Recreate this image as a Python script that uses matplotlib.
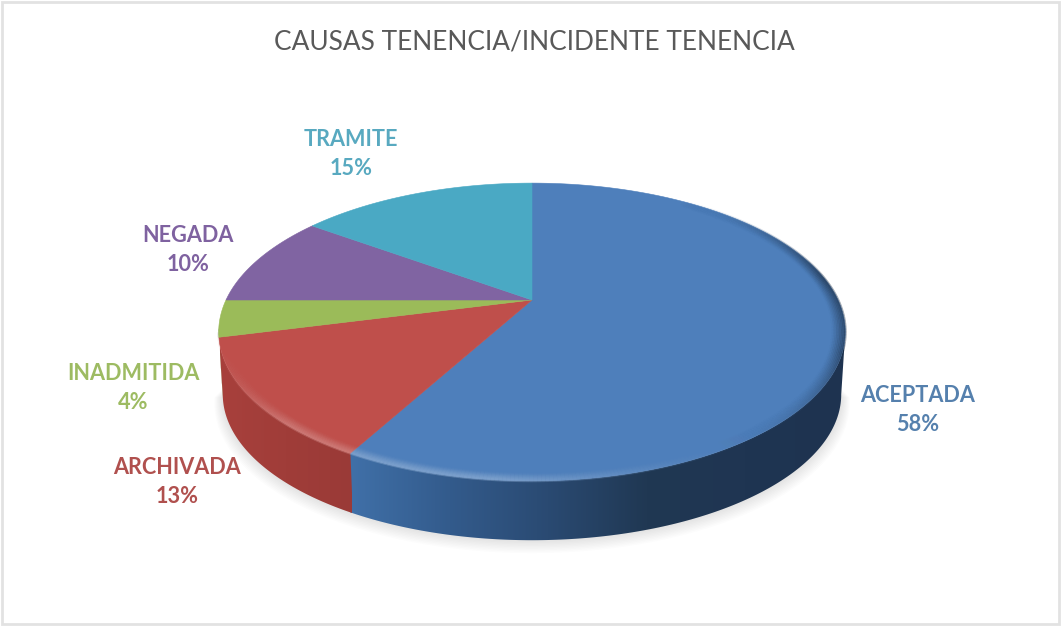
#!/usr/bin/env python3

import numpy as np
import matplotlib
matplotlib.use("Agg")
import matplotlib.pyplot as plt
from matplotlib.collections import LineCollection
from matplotlib.colors import LinearSegmentedColormap, to_rgb
from matplotlib.patches import Polygon, Rectangle

categories = ["ACEPTADA", "ARCHIVADA", "INADMITIDA", "NEGADA", "TRAMITE"]
shares = [58, 13, 4, 10, 15]

top_colors = ["#4e7fbb", "#bf4f4b", "#9bbb59", "#8064a2", "#4aa9c4"]
text_colors = ["#5580ad", "#b0504e", "#9dbb62", "#7f62a0", "#58a9c0"]
label_xy = [(918, 410), (177, 482), (133, 388), (188, 250), (351, 154)]

# pie geometry in image pixels, the disc is drawn with a perspective tilt
CX, CY = 532, 300
RX, RY, TILT = 306, 142, 0.2147
DEPTH = 63


def rim(t, scale=1.0):
    # t in degrees, clockwise from twelve o'clock
    a = np.radians(t)
    w = 1 + TILT * np.cos(a)
    return CX + scale * RX * np.sin(a) / w, CY - scale * RY * np.cos(a) / w


def lower_rim(t, grow=0.0):
    x, y = rim(t)
    return CX + (x - CX) * (0.987 + grow), CY + (y - CY) * (0.98 + grow) + DEPTH


def gradient_side(ax, xs, ys, stops, x0, x1):
    cmap = LinearSegmentedColormap.from_list("side", stops)
    poly = Polygon(np.c_[xs, ys], closed=True, fc="none", ec="none")
    ax.add_patch(poly)
    im = ax.imshow(
        np.linspace(0, 1, 256)[None, :],
        cmap=cmap,
        extent=(x0, x1, 560, 300),
        aspect="auto",
        zorder=3,
    )
    im.set_clip_path(poly)


def main():
    fig = plt.figure(figsize=(10.61, 6.26), dpi=100)
    ax = fig.add_axes([0, 0, 1, 1])
    ax.set_xlim(0, 1061)
    ax.set_ylim(626, 0)
    ax.axis("off")

    # chart frame
    ax.add_patch(Rectangle((2, 2), 1057, 622, fc="white", ec="#e2e2e2", lw=2))

    ax.text(534, 42, "CAUSAS TENENCIA/INCIDENTE TENENCIA", ha="center", va="center",
            fontsize=18.9, family="Lato", color="#595959")

    # soft shadow under the pie
    ts = np.linspace(100, 260, 200)
    for i in range(10):
        sx, sy = lower_rim(ts, grow=0.003 * i)
        ax.fill(sx, sy + 0.9 * i, color="black", alpha=0.012, lw=0, zorder=1)

    ends = np.cumsum(shares) * 3.6
    starts = np.r_[0, ends[:-1]]

    # side wall, only the front part of the rim shows
    front_a, front_b = 102.4, 257.6
    side_stops = {
        0: ["#1e3350", "#1f3552", "#203853", "#2a4a72", "#335b8c", "#4070a8"],
        1: ["#9a3a37", "#a03d39", "#a8403c"],
        2: ["#7f9c45", "#7f9c45"],
    }
    for i in range(3):
        a, b = max(starts[i], front_a), min(ends[i], front_b)
        if i == 0:
            b += 0.5
        ts = np.linspace(a, b, 150)
        tx, ty = rim(ts)
        bx, by = lower_rim(ts)
        xs = np.r_[tx, bx[::-1]]
        ys = np.r_[ty, by[::-1]]
        if i == 0:
            gradient_side(ax, xs, ys, side_stops[i], 845, 350)
        else:
            gradient_side(ax, xs, ys, side_stops[i], 352, 220)

    # top faces
    for i, c in enumerate(top_colors):
        ts = np.linspace(starts[i], ends[i], 200)
        rx, ry = rim(ts)
        ax.add_patch(Polygon(np.c_[np.r_[CX, rx], np.r_[CY, ry]], closed=True,
                             fc=c, ec=c, lw=0.4, zorder=4))

    # bevel on the rim: bright on the front left, dark on the right
    for k in range(9):
        scale = 1.0 - 0.005 * k
        alpha = 0.42 * (1 - k / 9) ** 1.3
        for i, c in enumerate(top_colors[:3]):
            ts = np.linspace(max(starts[i], 35), min(ends[i], 262), 300)
            px, py = rim(ts, scale)
            pts = np.c_[px, py].reshape(-1, 1, 2)
            segs = np.concatenate([pts[:-1], pts[1:]], axis=1)
            base = np.array(to_rgb(c))
            mid = ts[:-1]
            glow = np.clip((mid - 140) / 45, 0, 1) * np.clip((262 - mid) / 40, 0, 1)
            dark = np.clip((150 - mid) / 40, 0, 1) * np.clip((mid - 35) / 45, 0, 1)
            cols = np.zeros((len(mid), 4))
            cols[:, :3] = base + (1 - base)[None, :] * (0.35 * glow)[:, None]
            cols[:, :3] = cols[:, :3] * (1 - 0.65 * dark)[:, None]
            cols[:, 3] = alpha * np.maximum(glow, dark)
            ax.add_collection(LineCollection(segs, colors=cols, linewidths=2.0, zorder=5))

    # data labels
    for name, share, (x, y), c in zip(categories, shares, label_xy, text_colors):
        ax.text(x, y, f"{name}\n{share}%", ha="center", va="center", fontsize=15.6,
                family="Lato", weight="bold", color=c, linespacing=1.5, zorder=6)

    fig.savefig("out.png", dpi=100)


if __name__ == "__main__":
    main()
